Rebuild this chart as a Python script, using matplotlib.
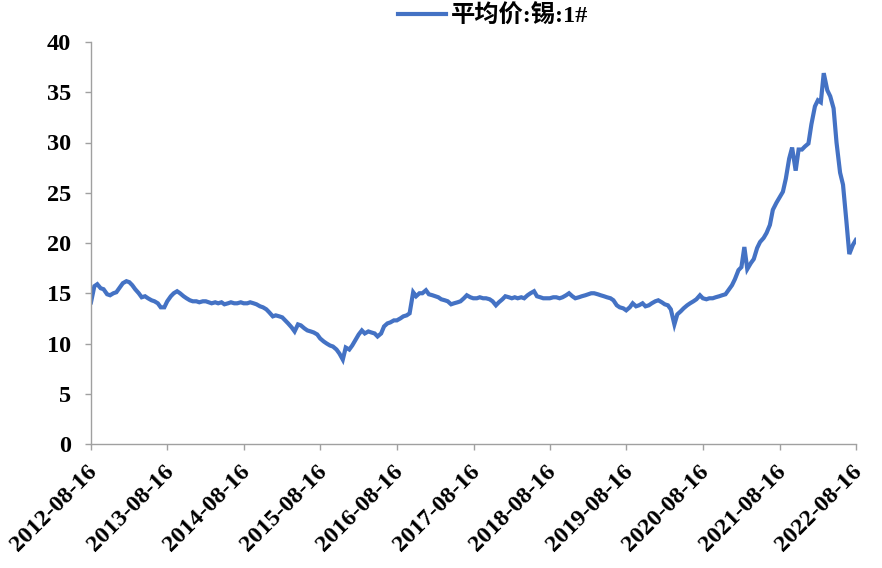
import matplotlib
matplotlib.use("Agg")
import matplotlib.pyplot as plt
import matplotlib.dates as mdates
import matplotlib.transforms as mtransforms
import pandas as pd
import numpy as np

series_name = "平均价:锡:1#"
start_date = "2012-08-16"
end_date = "2022-08-16"
start_value = 14.1

# semi-monthly values (1st and 15th of each month), one row per Sep..Aug year
y2012_13 = [15.7, 15.9, 15.5, 15.4, 14.9, 14.8, 15.0, 15.1, 15.6, 16.0, 16.2, 16.1,
            15.8, 15.4, 15.0, 14.6, 14.7, 14.5, 14.3, 14.2, 14.0, 13.6, 13.6, 14.2]
y2013_14 = [14.7, 15.0, 15.2, 15.0, 14.7, 14.5, 14.3, 14.2, 14.2, 14.1, 14.2, 14.2,
            14.1, 14.0, 14.1, 14.0, 14.1, 13.9, 14.0, 14.1, 14.0, 14.0, 14.1, 14.0]
y2014_15 = [14.0, 14.1, 14.0, 13.9, 13.7, 13.6, 13.4, 13.1, 12.7, 12.8, 12.7, 12.6,
            12.3, 12.0, 11.6, 11.2, 11.9, 11.8, 11.5, 11.3, 11.2, 11.1, 10.9, 10.5]
y2015_16 = [10.2, 10.0, 9.8, 9.7, 9.4, 9.0, 8.4, 9.6, 9.4, 9.8, 10.4, 10.9,
            11.3, 11.0, 11.2, 11.1, 11.0, 10.7, 11.0, 11.7, 12.0, 12.1, 12.3, 12.3]
y2016_17 = [12.5, 12.7, 12.8, 13.0, 15.1, 14.7, 15.0, 15.0, 15.3, 14.9, 14.8, 14.7,
            14.6, 14.4, 14.3, 14.2, 13.9, 14.0, 14.1, 14.2, 14.5, 14.8, 14.6, 14.5]
y2017_18 = [14.5, 14.6, 14.5, 14.5, 14.4, 14.2, 13.8, 14.1, 14.4, 14.7, 14.6, 14.5,
            14.6, 14.5, 14.6, 14.5, 14.8, 15.0, 15.2, 14.7, 14.6, 14.5, 14.5, 14.5]
y2018_19 = [14.6, 14.6, 14.5, 14.6, 14.8, 15.0, 14.7, 14.5, 14.6, 14.7, 14.8, 14.9,
            15.0, 15.0, 14.9, 14.8, 14.7, 14.6, 14.5, 14.3, 13.8, 13.6, 13.5, 13.3]
y2019_20 = [13.6, 14.0, 13.7, 13.8, 14.0, 13.7, 13.8, 14.0, 14.2, 14.3, 14.1, 13.9,
            13.8, 13.4, 11.9, 12.9, 13.2, 13.5, 13.8, 14.0, 14.2, 14.4, 14.8, 14.5]
y2020_21 = [14.4, 14.5, 14.5, 14.6, 14.7, 14.8, 14.9, 15.3, 15.8, 16.4, 17.3, 17.6,
            19.6, 17.4, 18.0, 18.4, 19.5, 20.1, 20.5, 21.0, 21.8, 23.3, 24.0, 24.5]
y2021_22 = [25.1, 26.4, 28.4, 29.5, 27.2, 29.3, 29.3, 29.6, 29.9, 31.8, 33.6, 34.2,
            34.0, 36.9, 35.2, 34.6, 33.4, 30.0, 27.0, 25.8, 22.2, 18.9, 19.8, 20.3]

values = [start_value] + y2012_13 + y2013_14 + y2014_15 + y2015_16 + y2016_17 + \
         y2017_18 + y2018_19 + y2019_20 + y2020_21 + y2021_22
dates = [pd.Timestamp(start_date)] + list(pd.date_range("2012-09-01", "2022-08-15", freq="SMS"))

tick_dates = pd.date_range(start_date, end_date, freq=pd.DateOffset(years=1))
y_ticks = [0, 5, 10, 15, 20, 25, 30, 35, 40]

serif = "Liberation Serif"
fig = plt.figure(figsize=(8.82, 5.68), dpi=100)
ax = fig.add_axes([91/882, 1-444/568, 765/882, 402/568])

line, = ax.plot(dates, values, color="#4472C4", lw=3.0, solid_joinstyle="miter",
                label=series_name)

ax.set_xlim(pd.Timestamp(start_date), pd.Timestamp(end_date))
ax.set_ylim(0, 40)
ax.set_yticks(y_ticks)
ax.set_xticks(tick_dates)
ax.set_xticklabels([d.strftime("%Y-%m-%d") for d in tick_dates])

for s in ["top", "right"]:
    ax.spines[s].set_visible(False)
for s in ["left", "bottom"]:
    ax.spines[s].set_color("#A0A0A0")
    ax.spines[s].set_linewidth(1.0)

ax.tick_params(axis="both", direction="out", length=4.5, width=1.0, color="#A0A0A0")
ax.tick_params(axis="y", pad=10)
ax.tick_params(axis="x", pad=13)

for lab in ax.get_yticklabels():
    lab.set_fontfamily(serif)
    lab.set_fontweight("bold")
    lab.set_fontsize(17.5)
off = mtransforms.ScaledTranslation(3/100, 0, fig.dpi_scale_trans)
for lab in ax.get_xticklabels():
    lab.set_fontfamily(serif)
    lab.set_fontweight("bold")
    lab.set_fontsize(17.5)
    lab.set_rotation(45)
    lab.set_ha("right")
    lab.set_va("center")
    lab.set_rotation_mode("anchor")
    lab.set_transform(lab.get_transform() + off)

leg = fig.legend(handles=[line], loc="center", bbox_to_anchor=(493/882, 1-16/568),
                 frameon=False, handlelength=2.0, handletextpad=0.2, borderpad=0,
                 prop={"family": [serif, "Noto Sans CJK SC"], "weight": "bold", "size": 17.5})

fig.savefig("out.png", dpi=100)
